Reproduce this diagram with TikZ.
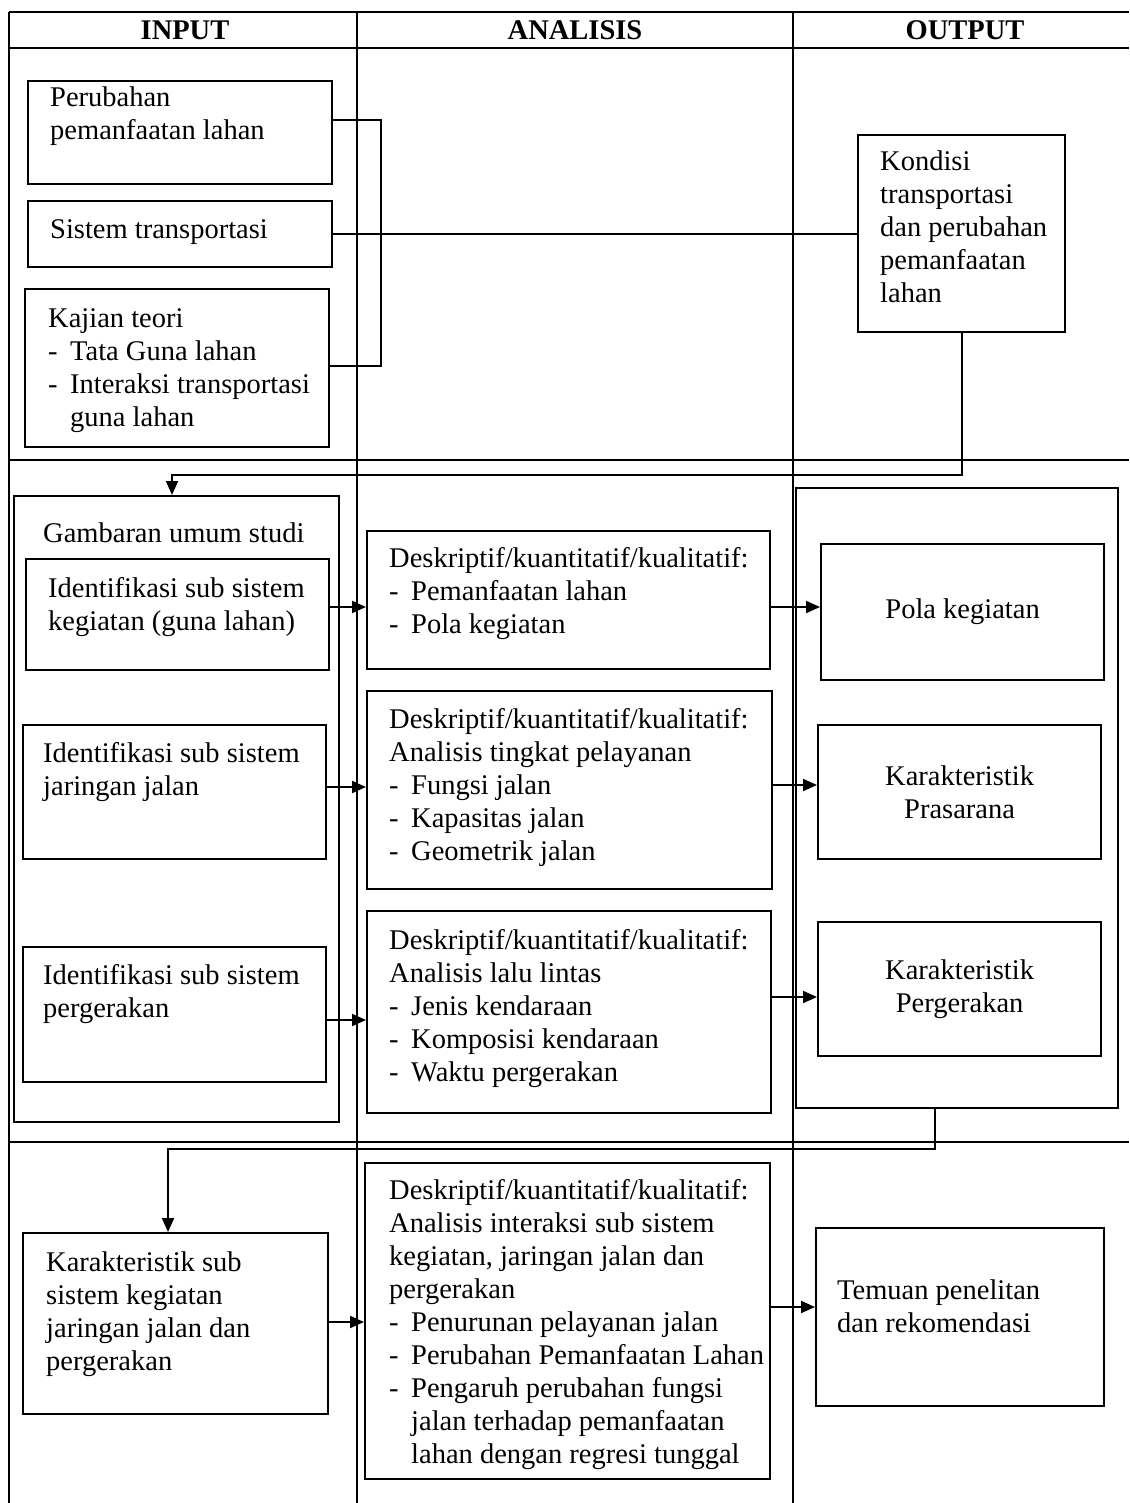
\documentclass[tikz,border=0pt]{standalone}
\usepackage{fontspec}
\setmainfont{Liberation Serif}
\usetikzlibrary{arrows.meta}
\newcommand{\fs}{\fontsize{28.5pt}{33pt}\selectfont}
\newcommand{\dsh}{\makebox[22pt][l]{-}}
\newcommand{\idt}{\hspace*{22pt}}
\begin{document}
\begin{tikzpicture}[x=1pt,y=-1pt,
  box/.style={draw, line width=2.2pt, inner sep=0pt, anchor=north west},
  cbox/.style={draw, line width=2.2pt, inner sep=0pt, anchor=north west, align=center, font=\fs},
  txt/.style={anchor=north west, inner sep=0pt, align=left, font=\fs},
  head/.style={inner sep=0pt, font=\fs\bfseries},
  grid/.style={line width=1.8pt},
  arr/.style={line width=2pt, -{Triangle[length=14pt,width=12pt]}},
  con/.style={line width=2pt}]
\useasboundingbox[fill=white] (0,0) rectangle (1129,1503);

% table grid
\draw[grid] (9,12) -- (1129,12);
\draw[grid] (9,48) -- (1129,48);
\draw[grid] (9,460) -- (1129,460);
\draw[grid] (9,1142) -- (1129,1142);
\draw[grid] (9,12) -- (9,1503);
\draw[grid] (357,12) -- (357,1503);
\draw[grid] (793,12) -- (793,1503);

% headers
\node[head] (hin) at (185,30) {INPUT};
\node[head] (han) at (575,30) {ANALISIS};
\node[head] (hout) at (965,30) {OUTPUT};

% row 1 boxes
\node[box, minimum width=304pt, minimum height=103pt] (pm) at (27,80) {};
\node[box, minimum width=304pt, minimum height=66pt] (st) at (27,200) {};
\node[box, minimum width=304pt, minimum height=158pt] (kt) at (24,288) {};
\node[box, minimum width=207pt, minimum height=197pt] (kd) at (857,134) {};

\node[txt] (tpm) at (50,83) {\strut Perubahan\\pemanfaatan lahan};
\node[txt] (tst) at (50,215) {\strut Sistem transportasi};
\node[txt] (tkt) at (48,304) {\strut Kajian teori\\\dsh Tata Guna lahan\\\dsh Interaksi transportasi\\\idt guna lahan};
\node[txt] (tkd) at (880,147) {\strut Kondisi\\transportasi\\dan perubahan\\pemanfaatan\\lahan};

% row 2 boxes
\node[box, minimum width=325pt, minimum height=626pt] (gin) at (13,495) {};
\node[box, minimum width=303pt, minimum height=111pt] (ik) at (25,558) {};
\node[box, minimum width=303pt, minimum height=134pt] (ij) at (22,724) {};
\node[box, minimum width=303pt, minimum height=135pt] (ip) at (22,946) {};
\node[box, minimum width=403pt, minimum height=138pt] (a1) at (366,530) {};
\node[box, minimum width=405pt, minimum height=198pt] (a2) at (366,690) {};
\node[box, minimum width=404pt, minimum height=202pt] (a3) at (366,910) {};
\node[box, minimum width=322pt, minimum height=620pt] (gout) at (795,487) {};
\node[cbox, minimum width=283pt, minimum height=136pt] (pk) at (820,543) {Pola kegiatan};
\node[cbox, minimum width=283pt, minimum height=134pt] (kp) at (817,724) {Karakteristik\\Prasarana};
\node[cbox, minimum width=283pt, minimum height=134pt] (kg) at (817,921) {Karakteristik\\Pergerakan};

\node[txt] (tgu) at (43,519) {\strut Gambaran umum studi};
\node[txt] (tik) at (48,574) {\strut Identifikasi sub sistem\\kegiatan (guna lahan)};
\node[txt] (tij) at (43,739) {\strut Identifikasi sub sistem\\jaringan jalan};
\node[txt] (tip) at (43,961) {\strut Identifikasi sub sistem\\pergerakan};
\node[txt] (ta1) at (389,544) {\strut Deskriptif/kuantitatif/kualitatif:\\\dsh Pemanfaatan lahan\\\dsh Pola kegiatan};
\node[txt] (ta2) at (389,705) {\strut Deskriptif/kuantitatif/kualitatif:\\Analisis tingkat pelayanan\\\dsh Fungsi jalan\\\dsh Kapasitas jalan\\\dsh Geometrik jalan};
\node[txt] (ta3) at (389,926) {\strut Deskriptif/kuantitatif/kualitatif:\\Analisis lalu lintas\\\dsh Jenis kendaraan\\\dsh Komposisi kendaraan\\\dsh Waktu pergerakan};

% row 3 boxes
\node[box, minimum width=305pt, minimum height=181pt] (ks) at (22,1232) {};
\node[box, minimum width=405pt, minimum height=316pt] (a4) at (364,1162) {};
\node[box, minimum width=288pt, minimum height=178pt] (tm) at (815,1227) {};

\node[txt] (tks) at (46,1248) {\strut Karakteristik sub\\sistem kegiatan\\jaringan jalan dan\\pergerakan};
\node[txt] (ta4) at (389,1176) {\strut Deskriptif/kuantitatif/kualitatif:\\Analisis interaksi sub sistem\\kegiatan, jaringan jalan dan\\pergerakan\\\dsh Penurunan pelayanan jalan\\\dsh Perubahan Pemanfaatan Lahan\\\dsh Pengaruh perubahan fungsi\\\idt jalan terhadap pemanfaatan\\\idt lahan dengan regresi tunggal};
\node[txt] (ttm) at (837,1276) {\strut Temuan penelitan\\dan rekomendasi};

% level coordinates
\coordinate (l120) at (0,120);
\coordinate (l366) at (0,366);
\coordinate (b1) at (381,120);
\coordinate (lv1) at (0,607);
\coordinate (lv2) at (0,787);
\coordinate (lv3) at (0,785);
\coordinate (lv4) at (0,1020);
\coordinate (lv5) at (0,997);
\coordinate (lv6) at (0,1322);
\coordinate (lv7) at (0,1307);
\coordinate (j1) at (172,475);
\coordinate (j2) at (935,1149);
\coordinate (j3) at (168,1149);

% connectors row 1
\draw[con] (pm.east |- l120) -- (b1) |- (kt.east |- l366);
\draw[con] (st.east) -- (st.east -| kd.west);
\draw[arr] (kd.south) |- (j1) -- (j1 |- gin.north);

% arrows row 2
\draw[arr] (ik.east |- lv1) -- (a1.west |- lv1);
\draw[arr] (a1.east |- lv1) -- (pk.west |- lv1);
\draw[arr] (ij.east |- lv2) -- (a2.west |- lv2);
\draw[arr] (a2.east |- lv3) -- (kp.west |- lv3);
\draw[arr] (ip.east |- lv4) -- (a3.west |- lv4);
\draw[arr] (a3.east |- lv5) -- (kg.west |- lv5);

% row 2 -> row 3
\draw[arr] (j2 |- gout.south) -- (j2) -- (j3) -- (j3 |- ks.north);
\draw[arr] (ks.east |- lv6) -- (a4.west |- lv6);
\draw[arr] (a4.east |- lv7) -- (tm.west |- lv7);
\end{tikzpicture}
\end{document}
